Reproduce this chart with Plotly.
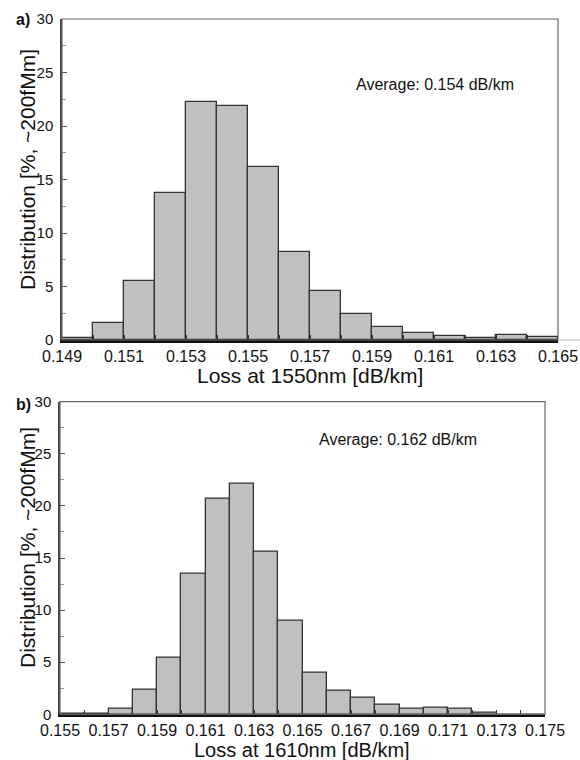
import plotly.graph_objects as go

# Histogram bins (lower edges) and share of fibres per bin, in percent
loss_1550_bins = [0.149, 0.150, 0.151, 0.152, 0.153, 0.154, 0.155, 0.156,
                  0.157, 0.158, 0.159, 0.160, 0.161, 0.162, 0.163, 0.164]
dist_1550 = [0.2, 1.6, 5.5, 13.7, 22.2, 21.9, 16.2, 8.25,
             4.6, 2.4, 1.2, 0.7, 0.35, 0.2, 0.45, 0.25]

loss_1610_bins = [0.155, 0.156, 0.157, 0.158, 0.159, 0.160, 0.161, 0.162,
                  0.163, 0.164, 0.165, 0.166, 0.167, 0.168, 0.169, 0.170,
                  0.171, 0.172, 0.173, 0.174]
dist_1610 = [0.1, 0.1, 0.5, 2.4, 5.4, 13.5, 20.7, 22.1,
             15.6, 9.0, 4.0, 2.3, 1.6, 0.9, 0.55, 0.65,
             0.55, 0.2, 0.0, 0.0]

ticks_1550 = [0.149, 0.151, 0.153, 0.155, 0.157, 0.159, 0.161, 0.163, 0.165]
ticks_1610 = [0.155, 0.157, 0.159, 0.161, 0.163, 0.165, 0.167, 0.169,
              0.171, 0.173, 0.175]
y_ticks = [0, 5, 10, 15, 20, 25, 30]

BIN = 0.001
FONT = "Liberation Sans, Arial, sans-serif"

fig = go.Figure()

fig.add_trace(go.Bar(
    x=[b + BIN / 2 for b in loss_1550_bins], y=dist_1550, width=BIN,
    marker=dict(color="#c0c0c0", line=dict(color="#333", width=1.3)),
    xaxis="x", yaxis="y", showlegend=False, hoverinfo="x+y"))

fig.add_trace(go.Bar(
    x=[b + BIN / 2 for b in loss_1610_bins], y=dist_1610, width=BIN,
    marker=dict(color="#c0c0c0", line=dict(color="#333", width=1.3)),
    xaxis="x2", yaxis="y2", showlegend=False, hoverinfo="x+y"))

W, H = 580, 760
top_dom_x = [62 / W, 558 / W]
top_dom_y = [(H - 340) / H, (H - 19) / H]
bot_dom_x = [60 / W, 545 / W]
bot_dom_y = [(H - 714.3) / H, (H - 401.7) / H]


def xaxis(dom, lo, hi, ticks, anchor):
    return dict(
        domain=dom, range=[lo, hi], anchor=anchor, automargin=False,
        tickmode="array", tickvals=ticks, ticktext=[f"{t:.3f}" for t in ticks],
        ticks="inside", ticklen=5, tickcolor="#333",
        minor=dict(dtick=BIN, tick0=lo, ticks="inside", ticklen=5, tickcolor="#333"),
        showline=True, linecolor="#111", linewidth=2.5, mirror=False,
        showgrid=False, zeroline=False,
        tickfont=dict(family=FONT, size=16, color="#111"))


def yaxis(dom, anchor):
    return dict(
        domain=dom, range=[0, 30], anchor=anchor, automargin=False,
        tickmode="array", tickvals=y_ticks,
        ticks="inside", ticklen=5, tickcolor="#555",
        minor=dict(dtick=2.5, ticks="inside", ticklen=4, tickcolor="#999"),
        showline=True, linecolor="#444", linewidth=1.5, mirror=False,
        showgrid=False, zeroline=False, ticklabelstandoff=4,
        tickfont=dict(family=FONT, size=15, color="#111"))


fig.update_layout(
    width=W, height=H,
    margin=dict(l=0, r=0, t=0, b=0, pad=0, autoexpand=False),
    paper_bgcolor="white", plot_bgcolor="white", bargap=0,
    xaxis=xaxis(top_dom_x, 0.149, 0.165, ticks_1550, "y"),
    yaxis=yaxis(top_dom_y, "x"),
    xaxis2=xaxis(bot_dom_x, 0.155, 0.175, ticks_1610, "y2"),
    yaxis2=yaxis(bot_dom_y, "x2"),
)

# Frames around both panels
for dx, dy in ((top_dom_x, top_dom_y), (bot_dom_x, bot_dom_y)):
    fig.add_shape(type="rect", xref="paper", yref="paper",
                  x0=dx[0], x1=dx[1], y0=dy[0], y1=dy[1],
                  line=dict(color="#666", width=1.2), layer="above")
# Baseline of the upper panel runs on to the edge of the page
fig.add_shape(type="line", xref="paper", yref="paper",
              x0=top_dom_x[1], x1=1.0, y0=top_dom_y[0], y1=top_dom_y[0],
              line=dict(color="#bbb", width=1))

ann = []
# Panel letters
ann.append(dict(text="<b>a)</b>", x=14 / W, y=(H - 20) / H, xref="paper", yref="paper",
                xanchor="left", yanchor="middle", showarrow=False,
                font=dict(family=FONT, size=16, color="#111")))
ann.append(dict(text="<b>b)</b>", x=14 / W, y=(H - 404) / H, xref="paper", yref="paper",
                xanchor="left", yanchor="middle", showarrow=False,
                font=dict(family=FONT, size=16, color="#111")))
# Y titles
for yc in (170, 548):
    ann.append(dict(text="Distribution [%, ~200fMm]", x=27 / W, y=(H - yc) / H,
                    xref="paper", yref="paper", textangle=-90, showarrow=False,
                    xanchor="center", yanchor="middle",
                    font=dict(family=FONT, size=21, color="#111")))
# X titles
ann.append(dict(text="Loss at 1550nm [dB/km]", x=310 / W, y=(H - 375) / H,
                xref="paper", yref="paper", showarrow=False,
                xanchor="center", yanchor="middle",
                font=dict(family=FONT, size=21, color="#111")))
ann.append(dict(text="Loss at 1610nm [dB/km]", x=302 / W, y=(H - 750) / H,
                xref="paper", yref="paper", showarrow=False,
                xanchor="center", yanchor="middle",
                font=dict(family=FONT, size=20, color="#111")))
# Mean values
ann.append(dict(text="Average: 0.154 dB/km", x=435 / W, y=(H - 85) / H,
                xref="paper", yref="paper", showarrow=False,
                xanchor="center", yanchor="middle",
                font=dict(family=FONT, size=16, color="#111")))
ann.append(dict(text="Average: 0.162 dB/km", x=398 / W, y=(H - 439) / H,
                xref="paper", yref="paper", showarrow=False,
                xanchor="center", yanchor="middle",
                font=dict(family=FONT, size=16, color="#111")))

fig.update_layout(annotations=ann)

fig.write_html("out.html", config={"displayModeBar": False})
